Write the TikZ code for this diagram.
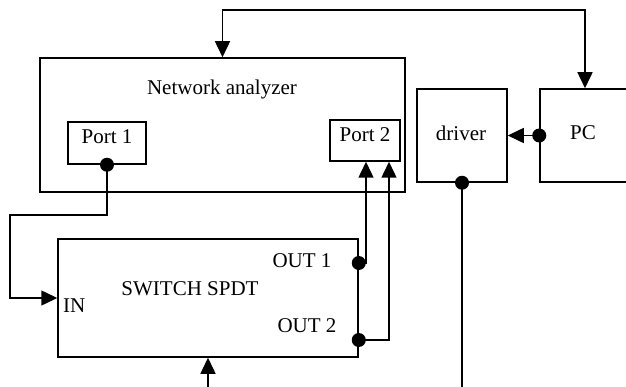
\documentclass[tikz,border=0pt]{standalone}
\usepackage{fontspec}
\setmainfont{Liberation Serif}
\usetikzlibrary{arrows.meta}

\tikzset{
  box/.style={draw, line width=1.5pt, inner sep=0pt},
  lbl/.style={inner sep=0pt, anchor=base},
  dot/.style={circle, fill=black, inner sep=0pt, minimum size=14pt},
  wire/.style={line width=1.5pt},
  arr/.style={wire, -{Triangle[length=16pt,width=15pt]}},
  arrboth/.style={wire, {Triangle[length=16pt,width=15pt]}-{Triangle[length=16pt,width=15pt]}},
}

\begin{document}
\begin{tikzpicture}[x=1pt,y=-1pt]

\fontsize{21}{25}\selectfont

\useasboundingbox (0,0) rectangle (626,387);
\clip (0,0) rectangle (626,387);

\coordinate (bus) at (585,10);
\coordinate (lft) at (10,215);
\coordinate (bottom) at (0,392);

\node[box, minimum width=365pt, minimum height=134pt] (na) at (222.5,125) {}; % analyzer
\node[box, minimum width=78pt, minimum height=42pt] (p1) at (107,143) {}; % port 1
\node[box, minimum width=70pt, minimum height=41pt] (p2) at (365,140.5) {}; % port 2
\node[box, minimum width=90pt, minimum height=93pt] (drv) at (462,135.5) {}; % driver
\node[box, minimum width=140pt, minimum height=93pt] (pc) at (610,135.5) {}; % PC
\node[box, minimum width=300pt, minimum height=118pt] (sw) at (208,298) {}; % switch

\node[lbl] (natxt) at (222,95) {Network analyzer};
\node[lbl] (p1txt) at (107,144) {Port 1};
\node[lbl] (p2txt) at (365,141.5) {Port 2};
\node[lbl] (drvtxt) at (461,140.5) {driver};
\node[lbl] (pctxt) at (583,140) {PC};
\node[lbl] (swtxt) at (190,295) {SWITCH SPDT};
\node[lbl] (o1txt) at (302,267) {OUT 1};
\node[lbl] (o2txt) at (307,332) {OUT 2};
\node[lbl, anchor=base west] (intxt) at (63,312) {IN};

\node[dot] (p1dot) at (p1.south) {};
\node[dot] (drvdot) at (drv.south) {};
\node[dot] (pcdot) at (pc.west) {};
\node[dot] (o1dot) at (sw.east |- 0,263) {};
\node[dot] (o2dot) at (sw.east |- 0,340) {};

\draw[arrboth] (na.north) -- (na.north |- bus) -| (pc.north -| bus); % PC bus
\draw[arr] (pcdot.center) -- (drv.east |- pcdot); % PC -> driver
\draw[wire] (drvdot.center) -- (drvdot |- bottom); % driver out
\draw[arr] (sw.south |- bottom) -- (sw.south); % control
\draw[arr] (p1dot.center) |- (lft) |- (sw.west); % port 1 -> IN
\draw[arr] (o1dot.center) -| ([xshift=1pt]p2.south); % OUT 1
\draw[arr] (o2dot.center) -| ([xshift=24pt]p2.south); % OUT 2

\end{tikzpicture}
\end{document}
